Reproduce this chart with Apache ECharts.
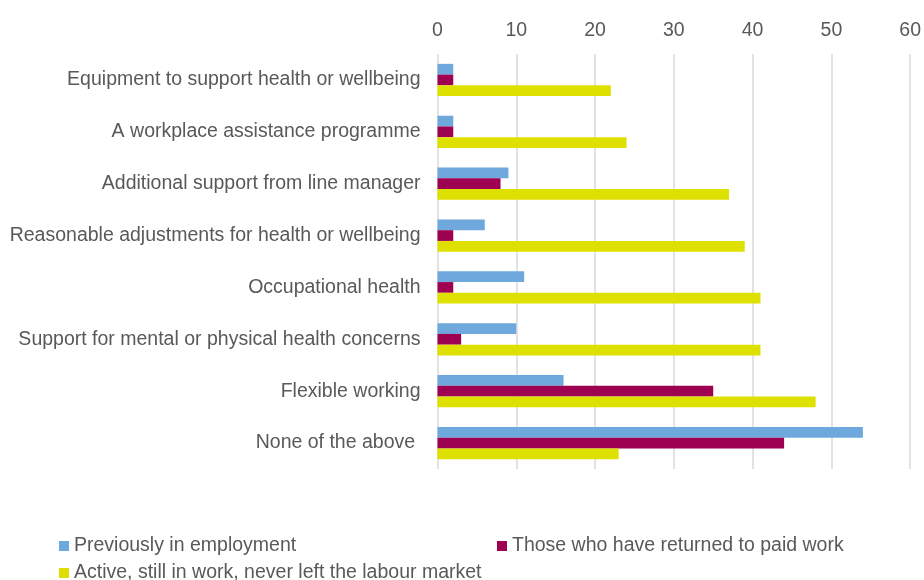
<!DOCTYPE html>
<html>
<head>
<meta charset="utf-8">
<script src="https://cdn.jsdelivr.net/npm/echarts@6/dist/echarts.min.js"></script>
<style>
  html, body { margin: 0; padding: 0; background: #ffffff; }
  #chart { width: 924px; height: 580px; }
</style>
</head>
<body>
<div id="chart"></div>
<script>
// Support categories, listed top to bottom
const categories = [
  'Equipment to support health or wellbeing',
  'A workplace assistance programme',
  'Additional support from line manager',
  'Reasonable adjustments for health or wellbeing',
  'Occupational health',
  'Support for mental or physical health concerns',
  'Flexible working',
  'None of the above '
];

const seriesNames = [
  'Previously in employment',
  'Those who have returned to paid work',
  'Active, still in work, never left the labour market'
];

// Percentages per group
const previouslyEmployed = [2, 2, 9, 6, 11, 10, 16, 54];
const returnedToWork = [2, 2, 8, 2, 2, 3, 35, 44];
const activeInWork = [22, 24, 37, 39, 41, 41, 48, 23];

const colors = ['#6FA8DC', '#9E0052', '#DEE100'];
const valueSets = [previouslyEmployed, returnedToWork, activeInWork];

const chart = echarts.init(document.getElementById('chart'));

const legendText = { fontFamily: 'Liberation Sans, Arial, sans-serif', fontSize: 19.5, color: '#595959' };
const legendBase = {
  itemWidth: 10, itemHeight: 10, itemGap: 4, icon: 'rect',
  textStyle: legendText, orient: 'horizontal', padding: 0
};

chart.setOption({
  animation: false,
  textStyle: { fontFamily: 'Liberation Sans, Arial, sans-serif' },
  grid: { left: 437.5, right: 10, top: 54, bottom: 111, containLabel: false },
  legend: [
    Object.assign({}, legendBase, { left: 59, top: 536, data: [seriesNames[0]] }),
    Object.assign({}, legendBase, { left: 497, top: 536, data: [seriesNames[1]] }),
    Object.assign({}, legendBase, { left: 59, top: 563, data: [seriesNames[2]] })
  ],
  xAxis: {
    type: 'value',
    position: 'top',
    min: 0, max: 60, interval: 10,
    axisLine: { show: false },
    axisTick: { show: false },
    axisLabel: { color: '#595959', fontSize: 19.5, margin: 13 },
    splitLine: { lineStyle: { color: '#D9D9D9', width: 1.5 } }
  },
  yAxis: {
    type: 'category',
    inverse: true,
    data: categories,
    axisLine: { show: false },
    axisTick: { show: false },
    axisLabel: { color: '#595959', fontSize: 19.5, margin: 17 }
  },
  series: seriesNames.map((name, i) => ({
    name: name,
    type: 'bar',
    data: valueSets[i],
    barGap: '0%',
    barCategoryGap: '38%',
    itemStyle: { color: colors[i] }
  }))
});
</script>
</body>
</html>
